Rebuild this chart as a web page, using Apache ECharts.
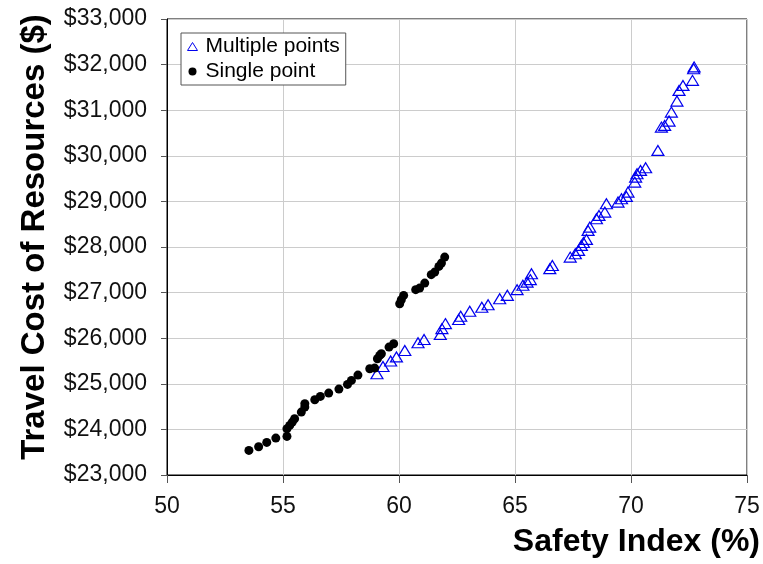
<!DOCTYPE html>
<html>
<head>
<meta charset="utf-8">
<script src="https://cdn.jsdelivr.net/npm/echarts@6/dist/echarts.min.js"></script>
<style>
html,body{margin:0;padding:0;background:#fff;}
#chart{width:763px;height:564px;}
</style>
</head>
<body>
<div id="chart"></div>
<script>
// Multiple points series (hollow blue triangles)
var multipleX = [59.05,59.31,59.64,59.89,60.25,60.82,61.08,61.78,61.85,62.00,62.57,62.66,63.05,63.57,63.84,64.34,64.67,65.09,65.34,65.52,65.66,65.71,66.50,66.61,67.38,67.60,67.74,67.86,67.95,68.08,68.15,68.22,68.51,68.62,68.87,68.94,69.44,69.59,69.80,69.87,70.16,70.20,70.26,70.41,70.63,71.16,71.31,71.45,71.64,71.74,71.98,72.07,72.24,72.65,72.70,72.72];
var multipleY = [25220,25380,25500,25590,25730,25900,25970,26080,26210,26320,26410,26480,26590,26680,26735,26865,26940,27065,27160,27230,27285,27415,27525,27595,27778,27853,27925,28035,28100,28167,28364,28436,28621,28693,28765,28950,28985,29059,29110,29204,29423,29533,29607,29680,29738,30118,30629,30667,30761,30958,31200,31434,31544,31654,31910,31950];
// Single point series (black dots)
var singleX = [53.53,53.95,54.30,54.69,55.17,55.17,55.29,55.40,55.50,55.79,55.94,55.94,56.37,56.61,56.97,57.41,57.78,57.95,58.23,58.74,58.95,59.07,59.17,59.24,59.57,59.77,60.03,60.10,60.20,60.72,60.89,61.11,61.39,61.54,61.72,61.83,61.97];
var singleY = [23539,23620,23715,23810,23846,24015,24088,24160,24234,24380,24489,24563,24651,24724,24796,24884,24987,25075,25191,25331,25344,25550,25623,25660,25805,25879,26756,26844,26939,27064,27099,27209,27393,27450,27575,27647,27778];
var seriesNames = ['Multiple points','Single point'];
var xTicks = [50,55,60,65,70,75];
var yTicks = [23000,24000,25000,26000,27000,28000,29000,30000,31000,32000,33000];
var xTitle = 'Safety Index (%)';
var yTitle = 'Travel Cost of Resources ($)';

function pairs(xs, ys){ return xs.map(function(x,i){ return [x, ys[i]]; }); }

var FONT = '"Liberation Sans", Arial, sans-serif';
var chart = echarts.init(document.getElementById('chart'), null, {renderer:'canvas'});
chart.setOption({
  animation:false,
  backgroundColor:'#ffffff',
  grid:{left:167, right:16, top:19, bottom:89, show:true, borderColor:'#000', borderWidth:1, backgroundColor:'transparent'},
  legend:{
    left:181, top:33, orient:'vertical', itemGap:4,
    backgroundColor:'#fff', borderColor:'#555', borderWidth:1,
    padding:[3,6,3,6], itemWidth:10, itemHeight:8,
    textStyle:{fontFamily:FONT, fontSize:21, color:'#000', padding:[0,0,0,3]},
    data:[
      {name:seriesNames[0], icon:'triangle', itemStyle:{color:'transparent', borderColor:'#0000ee', borderWidth:1, opacity:1}},
      {name:seriesNames[1], icon:'circle', itemStyle:{color:'#000', opacity:1}}
    ]
  },
  xAxis:{
    type:'value', min:xTicks[0], max:xTicks[xTicks.length-1], interval:5,
    axisLine:{onZero:false, lineStyle:{color:'#000', width:1}},
    axisTick:{show:true, length:8, lineStyle:{color:'#555'}},
    axisLabel:{fontFamily:FONT, fontSize:23, color:'#111', margin:20},
    splitLine:{show:true, lineStyle:{color:'#cccccc', width:1}},
    name:xTitle, nameLocation:'end', nameGap:13,
    nameTextStyle:{fontFamily:FONT, fontSize:32, fontWeight:'bold', color:'#000', align:'right', verticalAlign:'top', padding:[51,0,0,0]}
  },
  yAxis:{
    type:'value', min:yTicks[0], max:yTicks[yTicks.length-1], interval:1000,
    axisLine:{onZero:false, lineStyle:{color:'#000', width:1}},
    axisTick:{show:true, length:6, lineStyle:{color:'#555'}},
    axisLabel:{fontFamily:FONT, fontSize:23, color:'#111', margin:20,
      formatter:function(v){ return '$' + v.toLocaleString('en-US'); }},
    splitLine:{show:true, lineStyle:{color:'#cccccc', width:1}},
    name:yTitle, nameLocation:'middle', nameGap:116, nameRotate:90,
    nameTextStyle:{fontFamily:FONT, fontSize:33, fontWeight:'bold', color:'#000', padding:[0,0,0,20]}
  },
  series:[
    {name:seriesNames[0], type:'scatter', data:pairs(multipleX, multipleY),
     symbol:'triangle', symbolSize:[12,10],
     itemStyle:{color:'transparent', borderColor:'#0000ee', borderWidth:1.2, opacity:1}},
    {name:seriesNames[1], type:'scatter', data:pairs(singleX, singleY),
     symbol:'circle', symbolSize:9, itemStyle:{color:'#000', opacity:1}}
  ]
});
</script>
</body>
</html>
